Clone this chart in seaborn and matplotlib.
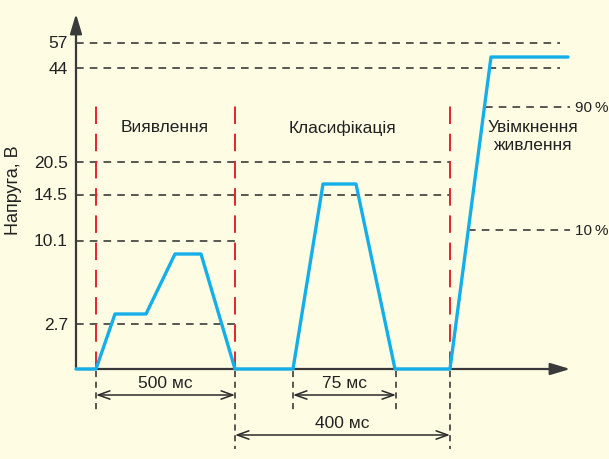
import matplotlib
matplotlib.use("Agg")
import matplotlib.pyplot as plt
import seaborn as sns
import pandas as pd

# схематичні рівні напруги (позиція над віссю часу) та підписи
level_labels = ["57", "44", "20.5", "14.5", "10.1", "2.7"]
level_pos = [326, 301, 207, 174, 128, 45]
level_end = [484, 484, 374, 374, 159, 159]

# схематичний час (фази) та форма сигналу
wave_t = [0, 20, 39, 70, 99, 125, 159, 217, 247, 280, 319, 374, 415, 492]
wave_v = [0, 0, 55, 55, 115, 115, 0, 0, 185, 185, 0, 0, 312, 312]

phase_x = [20, 159, 374]
phase_names = ["Виявлення", "Класифікація", "Увімкнення\nживлення"]
phase_name_x = [89, 267, 457]

pct_labels = ["90\u2009%", "10\u2009%"]
pct_pos = [262, 139]
pct_start = [409, 392]

# межі вимірів тривалості: початок, кінець, підпис, ряд
span_start = [20, 217, 159]
span_end = [159, 320, 374]
span_labels = ["500 мс", "75 мс", "400 мс"]
span_row = [1, 1, 2]

BG = "#fefce3"
BLUE = "#14aee8"
RED = "#e8232b"
DARK = "#2b2b2b"

sns.set_theme(style="white")
plt.rcParams["font.family"] = ["Liberation Sans", "DejaVu Sans"]

fig = plt.figure(figsize=(6.09, 4.6), dpi=100, facecolor=BG)
ax = fig.add_axes([0, 0, 1, 1], facecolor=BG)
ax.set_xlim(-76, 533)
ax.set_ylim(-90, 370)
ax.axis("off")

dash = dict(color=DARK, lw=1.1, dashes=(5, 4))

# горизонтальні пунктирні рівні
for lab, y, x1 in zip(level_labels, level_pos, level_end):
    ax.plot([0, x1], [y, y], **dash, zorder=1)
    ax.text(-8, y, lab, ha="right", va="center", fontsize=12.5, color="#222")

for lab, y, x0 in zip(pct_labels, pct_pos, pct_start):
    ax.plot([x0, 494], [y, y], **dash, zorder=1)
    ax.text(499, y, lab, ha="left", va="center", fontsize=11, color="#222")

# червоні межі фаз
for x in phase_x:
    ax.plot([x, x], [0, 266], color=RED, lw=1.4, dashes=(9, 5), zorder=2)

for name, x in zip(phase_names, phase_name_x):
    ax.text(x, 250, name, ha="center", va="top", fontsize=12.5, color="#222",
            linespacing=1.25)

# осі зі стрілками
ax.annotate("", xy=(0, 358), xytext=(0, -1),
            arrowprops=dict(arrowstyle="-|>,head_length=1.0,head_width=0.3",
                            color="#3a3a3a", lw=1.6))
ax.annotate("", xy=(497, 0), xytext=(0, 0),
            arrowprops=dict(arrowstyle="-|>,head_length=1.0,head_width=0.3",
                            color="#3a3a3a", lw=1.6))

# сигнал
df = pd.DataFrame({"t": wave_t, "v": wave_v})
sns.lineplot(data=df, x="t", y="v", sort=False, estimator=None,
             color=BLUE, lw=2.4, ax=ax, zorder=5)

# виносні лінії під віссю
for x in sorted(set(span_start + span_end)):
    depth = 80 if x in (159, 374) else 42
    ax.plot([x, x], [-2, -depth], color=DARK, lw=1.1, dashes=(4, 3), zorder=1)

for x0, x1, lab, row in zip(span_start, span_end, span_labels, span_row):
    y = -26 if row == 1 else -66
    ax.annotate("", xy=(x1, y), xytext=(x0, y),
                arrowprops=dict(arrowstyle="<->,head_length=0.7,head_width=0.25",
                                color=DARK, lw=1.1, shrinkA=0, shrinkB=0))
    ax.text((x0 + x1) / 2, y + 5, lab, ha="center", va="bottom",
            fontsize=12.5, color="#222")

ax.text(-62, 180, "Напруга, В", rotation=90, ha="center", va="center",
        fontsize=13, color="#222")

fig.savefig("out.png", dpi=100, facecolor=BG)
